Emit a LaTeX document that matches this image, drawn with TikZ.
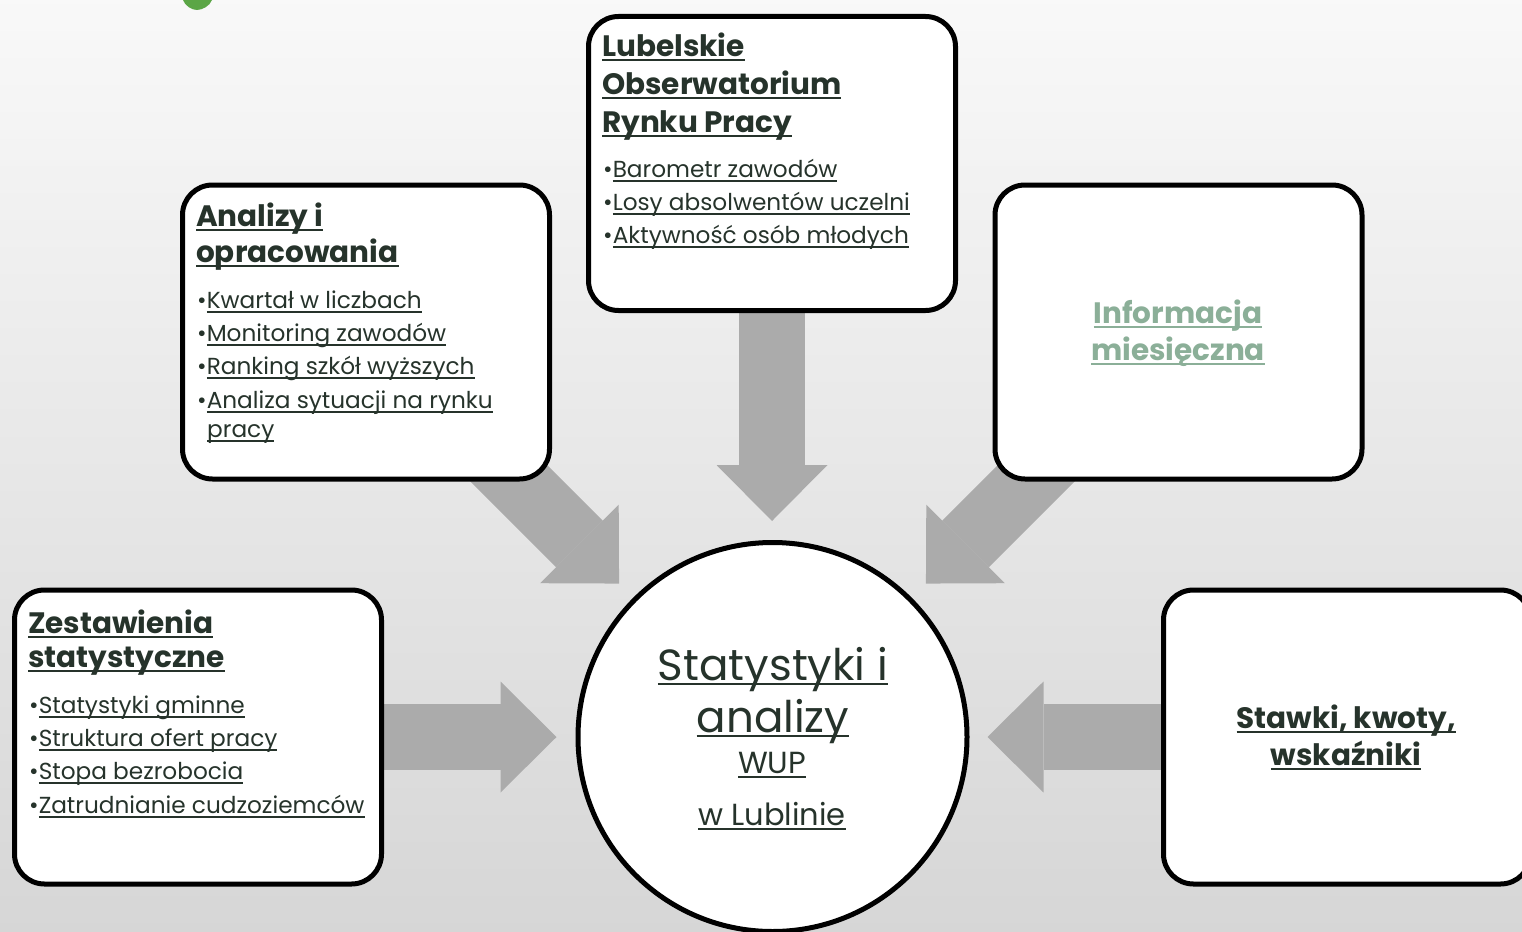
\documentclass[tikz,border=0pt]{standalone}
\usepackage{fontspec}
\setmainfont{Poppins}
\usetikzlibrary{arrows.meta,calc}
\pgfdeclarelayer{bg}
\pgfsetlayers{bg,main}

\definecolor{ink}{HTML}{26332B}
\definecolor{mossgray}{HTML}{8BAF98}
\definecolor{flowgray}{HTML}{ABABAB}
\definecolor{leafgreen}{HTML}{5BA646}
% underline at a fixed depth below the baseline
\newcommand\ulx[1]{\setbox0\hbox{#1}\rlap{\rule[-4.5pt]{\wd0}{2pt}}\box0}

\tikzset{
	panel/.style={draw=black, line width=5pt, fill=white, rounded corners=30pt,
		minimum width=367pt, minimum height=294pt},
	hubnode/.style={circle, draw=black, line width=5pt, fill=white,
		minimum size=389pt, inner sep=0pt},
	flow/.style={flowgray, line width=66pt,
		-{Triangle[width=111pt,length=56pt,line width=0pt]}},
	headline/.style={anchor=base west, inner sep=0pt, text=ink,
		font=\fontsize{29.5}{34}\selectfont\bfseries},
	entry/.style={anchor=base west, inner sep=0pt, text=ink,
		font=\fontsize{23.2}{27}\selectfont},
	midline/.style={anchor=base, inner sep=0pt, text=ink,
		font=\fontsize{29.5}{34}\selectfont\bfseries},
	hubline/.style={anchor=base, inner sep=0pt, text=ink,
		font=\fontsize{43.6}{50}\selectfont},
	hubsmall/.style={anchor=base, inner sep=0pt, text=ink,
		font=\fontsize{30.5}{35}\selectfont},
}

\begin{document}
\begin{tikzpicture}[x=1pt,y=-1pt]
	\useasboundingbox (0,0) rectangle (1522,931);
	% boxes
	\node[panel] (lorp) at (772,163.5) {};
	\node[panel] (analizy) at (366,332) {};
	\node[panel] (miesiecz) at (1178.5,332) {};
	\node[panel] (zest) at (198,737) {};
	\node[panel] (stawki) at (1347,737) {};
	\node[hubnode] (hub) at (772.5,737) {};

	% background and block arrows
	\begin{pgfonlayer}{bg}
	\fill[top color=gray!5, bottom color=gray!32] (0,0) rectangle (1522,931);
	\fill[leafgreen] (183,0) .. controls (185,6) and (192,10) .. (197,10)
		.. controls (202,10) and (210,6) .. (212,0) -- cycle;
	\draw[flow, shorten >=19pt] (lorp.center) -- (lorp.center |- hub.north);
	\draw[flow, shorten >=19pt] (zest.center) -- (hub.west);
	\draw[flow, shorten >=18pt] (stawki.center) -- (hub.east);
	\draw[flow, shorten >=20pt] ($(hub.center)!2.2!(hub.135)$) -- (hub.135);
	\draw[flow, shorten >=20pt] ($(hub.center)!2.2!(hub.45)$) -- (hub.45);
	\end{pgfonlayer}

	% Lubelskie Obserwatorium
	\node[headline] (lorp1) at (602,57) {\ulx{Lubelskie}};
	\node[headline] (lorp2) at (602,95) {\ulx{Obserwatorium}};
	\node[headline] (lorp3) at (602,132) {\ulx{Rynku Pracy}};
	\node[entry] (lorpa) at (603,177) {•\ulx{Barometr zawodów}};
	\node[entry] (lorpb) at (603,210) {•\ulx{Losy absolwentów uczelni}};
	\node[entry] (lorpc) at (603,243) {•\ulx{Aktywność osób młodych}};

	% Analizy i opracowania
	\node[headline] (anal1) at (196,226) {\ulx{Analizy i}};
	\node[headline] (anal2) at (196,262) {\ulx{opracowania}};
	\node[entry] (anala) at (197,308) {•\ulx{Kwartał w liczbach}};
	\node[entry] (analb) at (197,341) {•\ulx{Monitoring zawodów}};
	\node[entry] (analc) at (197,374) {•\ulx{Ranking szkół wyższych}};
	\node[entry] (anald) at (197,408) {•\ulx{Analiza sytuacji na rynku}};
	\node[entry] (anale) at (207,437) {\ulx{pracy}};

	% Informacja miesieczna
	\node[midline, text=mossgray] (mies1) at (1178,323) {\ulx{Informacja}};
	\node[midline, text=mossgray] (mies2) at (1178,360) {\ulx{miesięczna}};

	% Zestawienia statystyczne
	\node[headline] (zest1) at (28,633) {\ulx{Zestawienia}};
	\node[headline] (zest2) at (28,667) {\ulx{statystyczne}};
	\node[entry] (zesta) at (29,713) {•\ulx{Statystyki gminne}};
	\node[entry] (zestb) at (29,746) {•\ulx{Struktura ofert pracy}};
	\node[entry] (zestc) at (29,779) {•\ulx{Stopa bezrobocia}};
	\node[entry] (zestd) at (29,813) {•\ulx{Zatrudnianie cudzoziemców}};

	% Stawki
	\node[midline] (staw1) at (1346,728) {\ulx{Stawki, kwoty,}};
	\node[midline] (staw2) at (1346,765) {\ulx{wskaźniki}};

	% centre
	\node[hubline] (hub1) at (773,680) {\ulx{Statystyki i}};
	\node[hubline] (hub2) at (773,732) {\ulx{analizy}};
	\node[hubsmall] (hub3) at (772,773) {\ulx{WUP}};
	\node[hubsmall] (hub4) at (772,825) {\ulx{w Lublinie}};
\end{tikzpicture}
\end{document}
